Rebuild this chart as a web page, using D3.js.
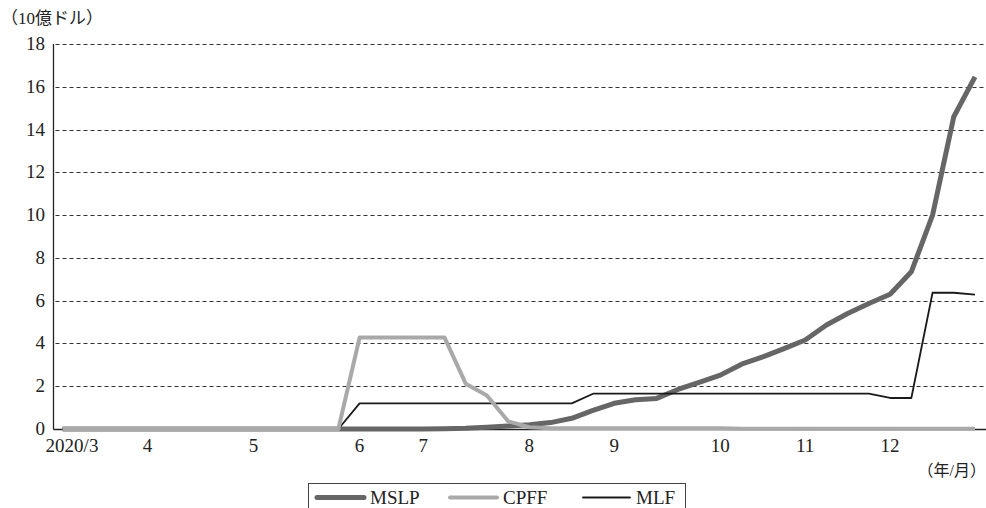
<!DOCTYPE html>
<html>
<head>
<meta charset="utf-8">
<title>MSLP / CPFF / MLF</title>
<script src="https://d3js.org/d3.v7.min.js"></script>
<style>
  body { margin: 0; background: #fff; }
  svg { display: block; }
</style>
</head>
<body>
<svg id="chart"></svg>
<script>
// weekly observations, 2020/3 - 2020/12 (10億ドル)
const mslp = [0, 0, 0, 0, 0, 0, 0, 0, 0, 0, 0, 0, 0, 0, 0, 0, 0, 0, 0.01, 0.03,
              0.08, 0.14, 0.2, 0.3, 0.5, 0.87, 1.2, 1.37, 1.43, 1.85,
              2.18, 2.52, 3.03, 3.37, 3.76, 4.16, 4.86, 5.4, 5.87, 6.3,
              7.35, 10.0, 14.6, 16.46];
const cpff = [0, 0, 0, 0, 0, 0, 0, 0, 0, 0, 0, 0, 0, 0, 4.28, 4.28, 4.28, 4.28, 4.28, 2.12,
              1.57, 0.36, 0.08, 0.04, 0.04, 0.04, 0.04, 0.04, 0.04, 0.04,
              0.04, 0.04, 0.01, 0.01, 0.01, 0.01, 0.01, 0.01, 0.01, 0.01,
              0.01, 0.01, 0.01, 0.01];
const mlf = [0, 0, 0, 0, 0, 0, 0, 0, 0, 0, 0, 0, 0, 0, 1.2, 1.2, 1.2, 1.2, 1.2, 1.2,
             1.2, 1.2, 1.2, 1.2, 1.2, 1.65, 1.65, 1.65, 1.65, 1.65,
             1.65, 1.65, 1.65, 1.65, 1.65, 1.65, 1.65, 1.65, 1.65, 1.45,
             1.45, 6.37, 6.37, 6.28];
// month labels sit on the week index where the month starts
const monthIdx = [0, 4, 9, 14, 17, 22, 26, 31, 35, 39];
const monthLabels = ["2020/3", "4", "5", "6", "7", "8", "9", "10", "11", "12"];
const yTicks = [0, 2, 4, 6, 8, 10, 12, 14, 16, 18];

const width = 986, height = 508;
const svg = d3.select("#chart").attr("width", width).attr("height", height)
    .attr("font-family", "'Liberation Serif', 'DejaVu Serif', 'Noto Sans CJK JP', serif")
    .attr("fill", "#222");

const x = d3.scaleLinear().domain([0, mslp.length - 1]).range([62.5, 975]);
const y = d3.scaleLinear().domain([0, 18]).range([429, 44]);
const axisLeft = 53.5, axisRight = 986;

// gridlines
svg.selectAll("line.grid")
    .data(yTicks.filter(d => d > 0))
    .join("line")
    .attr("class", "grid")
    .attr("x1", axisLeft + 2).attr("x2", axisRight)
    .attr("y1", d => Math.round(y(d)) + 0.5).attr("y2", d => Math.round(y(d)) + 0.5)
    .attr("stroke", "#333")
    .attr("stroke-width", 1)
    .attr("stroke-dasharray", "4,3");

// y axis + x axis lines
svg.append("line")
    .attr("x1", axisLeft).attr("x2", axisLeft)
    .attr("y1", y(18)).attr("y2", Math.round(y(0)) + 0.5)
    .attr("stroke", "#222").attr("stroke-width", 1.3);
svg.append("line")
    .attr("x1", axisLeft).attr("x2", axisRight)
    .attr("y1", Math.round(y(0)) + 0.5).attr("y2", Math.round(y(0)) + 0.5)
    .attr("stroke", "#222").attr("stroke-width", 1.3);

svg.selectAll("text.ylab")
    .data(yTicks)
    .join("text")
    .attr("class", "ylab")
    .attr("x", 45)
    .attr("y", d => y(d) + 6)
    .attr("text-anchor", "end")
    .attr("font-size", "19px")
    .text(d => d);

svg.selectAll("text.xlab")
    .data(monthIdx)
    .join("text")
    .attr("class", "xlab")
    .attr("x", (d, i) => x(d) + (i === 0 ? 9.5 : 0))
    .attr("y", 452)
    .attr("text-anchor", "middle")
    .attr("font-size", "19px")
    .text((d, i) => monthLabels[i]);

svg.append("text")
    .attr("x", 1).attr("y", 24)
    .attr("font-size", "17px")
    .text("（10億ドル）");

svg.append("text")
    .attr("x", 986).attr("y", 476)
    .attr("text-anchor", "end")
    .attr("font-size", "16px")
    .text("（年/月）");

// series
const series = [
    { name: "MSLP", values: mslp, color: "#666666", width: 5 },
    { name: "MLF", values: mlf, color: "#1a1a1a", width: 1.8 },
    { name: "CPFF", values: cpff, color: "#a9a9a9", width: 4 }
];
const line = d3.line().x((d, i) => x(i)).y(d => y(d));

svg.selectAll("path.series")
    .data(series)
    .join("path")
    .attr("class", "series")
    .attr("d", d => line(d.values))
    .attr("fill", "none")
    .attr("stroke", d => d.color)
    .attr("stroke-width", d => d.width)
    .attr("stroke-linejoin", "round");

// legend
const legendOrder = ["MSLP", "CPFF", "MLF"];
const legendX = [317, 450, 583];
const legend = svg.append("g");
legend.append("rect")
    .attr("x", 308.5).attr("y", 483.5)
    .attr("width", 377).attr("height", 40)
    .attr("fill", "#fff")
    .attr("stroke", "#444").attr("stroke-width", 1);
legendOrder.forEach((name, i) => {
    const s = series.find(d => d.name === name);
    legend.append("line")
        .attr("x1", legendX[i]).attr("x2", legendX[i] + 47)
        .attr("y1", 497.5).attr("y2", 497.5)
        .attr("stroke", s.color)
        .attr("stroke-width", s.width)
        .attr("stroke-linecap", "round");
    legend.append("text")
        .attr("x", legendX[i] + 53).attr("y", 504)
        .attr("font-size", "19px")
        .text(name);
});
</script>
</body>
</html>
